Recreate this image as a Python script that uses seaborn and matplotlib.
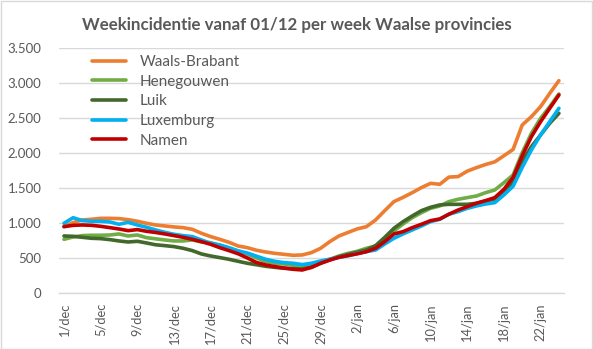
import matplotlib
matplotlib.use("Agg")
import matplotlib.pyplot as plt
from matplotlib.lines import Line2D
from matplotlib.patches import Rectangle
import pandas as pd
import seaborn as sns

# Daily categories 1/dec .. 24/jan
days = [f"{d}/dec" for d in range(1, 32)] + [f"{d}/jan" for d in range(1, 25)]
tick_labels = ["1/dec", "5/dec", "9/dec", "13/dec", "17/dec", "21/dec", "25/dec",
               "29/dec", "2/jan", "6/jan", "10/jan", "14/jan", "18/jan", "22/jan"]

waals_brabant = [952, 1010, 1048, 1057, 1071, 1071, 1067, 1052, 1029, 1000,
                 976, 962, 948, 938, 914, 857, 810, 771, 729, 676,
                 652, 615, 590, 571, 557, 543, 548, 581, 643, 738,
                 819, 870, 920, 952, 1048, 1181, 1310, 1371, 1438, 1510,
                 1571, 1557, 1660, 1667, 1745, 1795, 1840, 1878, 1965, 2055,
                 2405, 2524, 2667, 2857, 3038]
henegouwen = [771, 805, 824, 829, 829, 833, 848, 819, 833, 795,
              778, 762, 748, 748, 762, 733, 724, 686, 643, 605,
              562, 505, 452, 429, 419, 400, 390, 405, 448, 486,
              533, 571, 600, 643, 676, 762, 890, 990, 1081, 1152,
              1214, 1248, 1310, 1343, 1367, 1390, 1438, 1476, 1581, 1690,
              2010, 2286, 2500, 2667, 2848]
luik = [819, 814, 800, 786, 781, 767, 748, 733, 743, 719,
        693, 681, 667, 643, 610, 562, 533, 510, 486, 457,
        429, 408, 386, 371, 357, 352, 348, 371, 429, 476,
        524, 555, 588, 619, 681, 800, 929, 1024, 1105, 1181,
        1229, 1262, 1271, 1271, 1271, 1286, 1319, 1343, 1452, 1580,
        1880, 2095, 2262, 2429, 2571]
luxemburg = [1000, 1080, 1038, 1029, 1029, 1019, 986, 1014, 976, 943,
             905, 871, 843, 824, 810, 762, 714, 690, 652, 605,
             576, 530, 486, 457, 438, 429, 410, 429, 462, 486,
             514, 536, 570, 595, 619, 705, 786, 848, 905, 962,
             1024, 1057, 1130, 1167, 1214, 1248, 1276, 1295, 1405, 1530,
             1800, 2048, 2262, 2452, 2643]
namen = [952, 971, 976, 971, 957, 938, 919, 895, 910, 886,
         869, 848, 824, 800, 771, 738, 700, 652, 610, 565,
         505, 440, 405, 381, 362, 343, 333, 371, 429, 476,
         514, 540, 564, 595, 643, 738, 848, 881, 938, 986,
         1038, 1062, 1130, 1190, 1238, 1286, 1324, 1367, 1486, 1655,
         1965, 2238, 2452, 2643, 2833]

provinces = ["Waals-Brabant", "Henegouwen", "Luik", "Luxemburg", "Namen"]
colors = ["#ED7D31", "#70AD47", "#43682B", "#00B0F0", "#C00000"]

wide = pd.DataFrame({"dag": range(len(days)),
                     "Waals-Brabant": waals_brabant, "Henegouwen": henegouwen,
                     "Luik": luik, "Luxemburg": luxemburg, "Namen": namen})
long = wide.melt(id_vars="dag", var_name="provincie", value_name="incidentie")

sns.set_theme(style="white")
plt.rcParams["font.family"] = ["Lato", "DejaVu Sans"]

W, H = 593, 349
fig = plt.figure(figsize=(W / 100, H / 100), dpi=100)
fig.patches.append(Rectangle((0.5 / W, 0.5 / H), 1 - 1.5 / W, 1 - 1.5 / H,
                             transform=fig.transFigure, fill=False,
                             edgecolor="#D9D9D9", lw=1))

x0, x1, ytop, ybot = 59.4, 563.5, 48.3, 293.3
ax = fig.add_axes([x0 / W, 1 - ybot / H, (x1 - x0) / W, (ybot - ytop) / H])

sns.lineplot(data=long, x="dag", y="incidentie", hue="provincie",
             hue_order=provinces, palette=colors, linewidth=2.6,
             legend=False, ax=ax)

ax.set_xlim(-0.5, len(days) - 0.5)
ax.set_ylim(0, 3500)
ax.set_xlabel("")
ax.set_ylabel("")

yt = list(range(0, 3501, 500))
ax.set_yticks(yt)
ax.set_yticklabels([f"{v:,}".replace(",", ".") for v in yt])
ax.yaxis.grid(True, color="#D9D9D9", lw=1)
ax.set_axisbelow(True)

# labels centred on the category, tick marks on the boundaries
label_pos = [days.index(t) for t in tick_labels]
ax.set_xticks(label_pos)
ax.set_xticklabels(tick_labels, rotation=90)
ax.set_xticks([p - 0.5 for p in label_pos], minor=True)
ax.tick_params(axis="x", which="major", length=0, pad=7, labelsize=9.3,
               labelcolor="#595959")
ax.tick_params(axis="x", which="minor", length=5, width=1, color="#D9D9D9",
               direction="out")
ax.tick_params(axis="y", length=0, pad=13, labelsize=9.5, labelcolor="#595959")

for s in ["left", "right", "top"]:
    ax.spines[s].set_visible(False)
ax.spines["bottom"].set_color("#D9D9D9")
ax.spines["bottom"].set_linewidth(1)

handles = [Line2D([], [], color=c, lw=2.6) for c in colors]
leg = ax.legend(handles, provinces, loc="upper left",
                bbox_to_anchor=((92 - x0) / (x1 - x0), (ybot - 55) / (ybot - ytop)),
                frameon=False, fontsize=11, handlelength=2.2, handletextpad=0.9,
                labelspacing=0.37, borderpad=0, borderaxespad=0)
for t in leg.get_texts():
    t.set_color("#595959")

fig.text(0.5, 1 - 25 / H, "Weekincidentie vanaf 01/12 per week Waalse provincies",
         ha="center", va="center", fontsize=12.2, fontweight="bold",
         color="#595959")

fig.savefig("out.png", dpi=100)
